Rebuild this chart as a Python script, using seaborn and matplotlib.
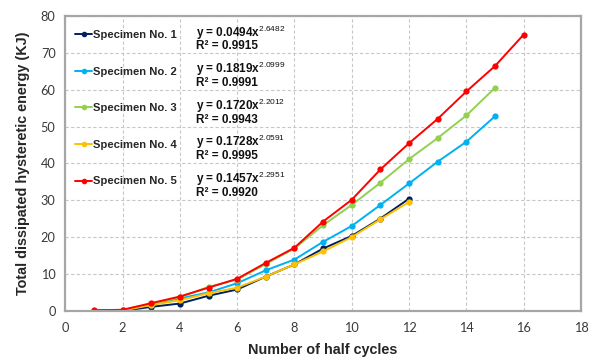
import matplotlib
matplotlib.use("Agg")
import matplotlib.pyplot as plt
from matplotlib.lines import Line2D
import seaborn as sns
import pandas as pd

# Cumulative dissipated hysteretic energy (kJ) per half cycle
cycles_1 = [1, 2, 3, 4, 5, 6, 7, 8, 9, 10, 11, 12]
energy_1 = [0.1, 0.1, 1.2, 2.1, 4.2, 5.9, 9.4, 12.7, 17.0, 20.4, 25.1, 30.5]

cycles_2 = [1, 2, 3, 4, 5, 6, 7, 8, 9, 10, 11, 12, 13, 14, 15]
energy_2 = [0.2, 0.3, 1.8, 3.5, 5.1, 7.6, 11.1, 14.0, 18.8, 23.1, 28.8, 34.6, 40.5, 45.9, 52.8]

cycles_3 = [1, 2, 3, 4, 5, 6, 7, 8, 9, 10, 11, 12, 13, 14, 15]
energy_3 = [0.2, 0.4, 2.0, 3.8, 6.6, 8.6, 12.8, 17.0, 23.3, 28.8, 34.8, 41.2, 46.9, 53.0, 60.5]

cycles_4 = [1, 2, 3, 4, 5, 6, 7, 8, 9, 10, 11, 12]
energy_4 = [0.1, 0.2, 1.7, 3.0, 4.9, 6.4, 9.4, 12.7, 16.2, 20.1, 24.9, 29.6]

cycles_5 = [1, 2, 3, 4, 5, 6, 7, 8, 9, 10, 11, 12, 13, 14, 15, 16]
energy_5 = [0.3, 0.4, 2.2, 4.0, 6.4, 8.8, 13.1, 17.2, 24.3, 30.2, 38.4, 45.5, 52.1, 59.5, 66.4, 74.9]

specimens = ["Specimen No. 1", "Specimen No. 2", "Specimen No. 3",
             "Specimen No. 4", "Specimen No. 5"]
fit_coef = ["0.0494", "0.1819", "0.1720", "0.1728", "0.1457"]
fit_exp = ["2.6482", "2.0999", "2.2012", "2.0591", "2.2951"]
fit_r2 = ["0.9915", "0.9991", "0.9943", "0.9995", "0.9920"]

colors = ["#002060", "#00B0F0", "#92D050", "#FFC000", "#FF0000"]

all_cycles = [cycles_1, cycles_2, cycles_3, cycles_4, cycles_5]
all_energy = [energy_1, energy_2, energy_3, energy_4, energy_5]

frames = []
for name, xs, ys in zip(specimens, all_cycles, all_energy):
    frames.append(pd.DataFrame({"cycles": xs, "energy": ys, "specimen": name}))
df = pd.concat(frames, ignore_index=True)

sns.set_theme(style="white")
plt.rcParams["font.family"] = ["Liberation Sans", "DejaVu Sans"]
plt.rcParams["mathtext.fontset"] = "custom"
plt.rcParams["mathtext.rm"] = "Liberation Sans"
plt.rcParams["mathtext.bf"] = "Liberation Sans:bold"

fig = plt.figure(figsize=(5.95, 3.6), dpi=100)
ax = fig.add_axes([0.1097, 0.1353, 0.8668, 0.8211])

sns.lineplot(data=df, x="cycles", y="energy", hue="specimen",
             hue_order=specimens, palette=colors, marker="o",
             markersize=4.5, markeredgewidth=0, linewidth=1.4,
             legend=False, ax=ax, sort=False)

ax.set_xlim(0, 18)
ax.set_ylim(0, 80)
ax.set_xticks(range(0, 19, 2))
ax.set_yticks(range(0, 81, 10))
ax.grid(True, color="#c8c8c8", linestyle=(0, (3, 2)), linewidth=0.8)
ax.set_axisbelow(True)
for sp in ax.spines.values():
    sp.set_color("#a6a6a6")
    sp.set_linewidth(1.6)
ax.tick_params(axis="both", length=0, labelsize=9.2, labelcolor="#3a3a3a")
ax.tick_params(axis="x", pad=8)
ax.tick_params(axis="y", pad=7)
for lab in ax.get_xticklabels() + ax.get_yticklabels():
    lab.set_fontfamily(["Lato", "DejaVu Sans"])

ax.set_xlabel("Number of half cycles", fontsize=10.4, fontweight="bold", labelpad=6)
ax.set_ylabel("Total dissipated hysteretic energy (KJ)", fontsize=10.4,
              fontweight="bold", labelpad=8)

handles = [Line2D([], [], color=c, marker="o", markersize=4, markeredgewidth=0,
                  linewidth=1.4) for c in colors]
ax.legend(handles, specimens, loc="upper left", bbox_to_anchor=(0.0, 0.985),
          frameon=False, handlelength=1.5, handletextpad=0.1,
          labelspacing=2.36, borderaxespad=0.5,
          prop={"family": "Liberation Sans", "weight": "bold", "size": 8.1})

row_px = 36.6
for i in range(5):
    y_px = 32.5 + row_px * i
    yf = (311.3 - y_px) / 295.6
    ax.text(0.2534, yf,
            "y = " + fit_coef[i] + "x$^{\\mathrm{" + fit_exp[i] + "}}$",
            transform=ax.transAxes, fontsize=8.5, fontweight="bold",
            va="center", ha="left", color="#111111")
    ax.text(0.2534, (311.3 - (y_px + 14.0)) / 295.6,
            "R\u00b2 = " + fit_r2[i],
            transform=ax.transAxes, fontsize=8.5, fontweight="bold",
            va="center", ha="left", color="#111111")

fig.savefig("out.png", dpi=100)
